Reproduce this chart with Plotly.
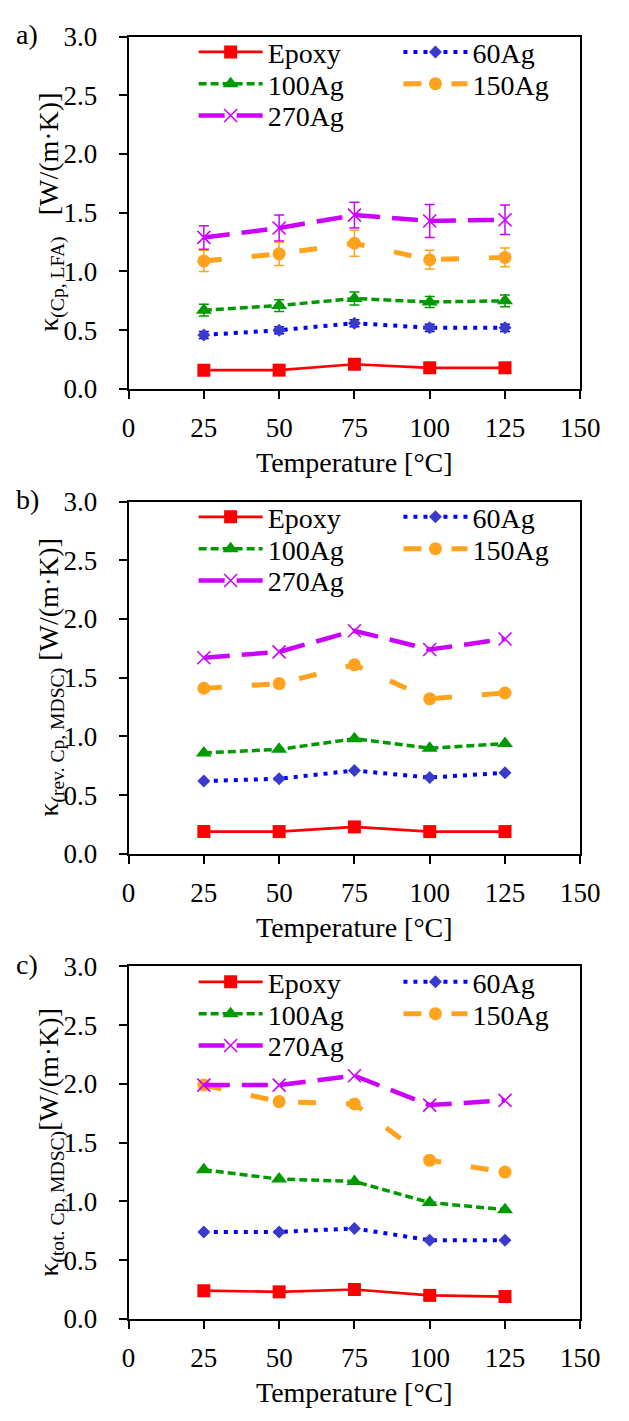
import plotly.graph_objects as go

# ---- data -------------------------------------------------------------
temperature = [25, 50, 75, 100, 125]
series_names = ["Epoxy", "60Ag", "100Ag", "150Ag", "270Ag"]

# (a) kappa from LFA with Cp
lfa_epoxy = [0.16, 0.16, 0.21, 0.18, 0.18]
lfa_60ag = [0.46, 0.50, 0.56, 0.52, 0.52]
lfa_100ag = [0.67, 0.71, 0.77, 0.74, 0.75]
lfa_150ag = [1.09, 1.15, 1.24, 1.10, 1.12]
lfa_270ag = [1.29, 1.37, 1.48, 1.43, 1.44]

lfa_err_epoxy = [0.01, 0.01, 0.01, 0.01, 0.01]
lfa_err_60ag = [0.03, 0.03, 0.03, 0.03, 0.03]
lfa_err_100ag = [0.05, 0.05, 0.055, 0.046, 0.05]
lfa_err_150ag = [0.09, 0.10, 0.11, 0.08, 0.08]
lfa_err_270ag = [0.10, 0.11, 0.11, 0.14, 0.125]

# (b) kappa from reversing Cp (MDSC)
rev_epoxy = [0.19, 0.19, 0.23, 0.19, 0.19]
rev_60ag = [0.62, 0.64, 0.71, 0.65, 0.69]
rev_100ag = [0.86, 0.89, 0.98, 0.90, 0.94]
rev_150ag = [1.41, 1.45, 1.61, 1.32, 1.37]
rev_270ag = [1.67, 1.72, 1.90, 1.74, 1.83]

# (c) kappa from total Cp (MDSC)
tot_epoxy = [0.24, 0.23, 0.25, 0.20, 0.19]
tot_60ag = [0.74, 0.74, 0.77, 0.67, 0.67]
tot_100ag = [1.27, 1.19, 1.17, 0.99, 0.93]
tot_150ag = [1.99, 1.85, 1.83, 1.35, 1.25]
tot_270ag = [1.99, 1.99, 2.07, 1.82, 1.86]

panel_labels = ["a)", "b)", "c)"]
y_titles = [
    "κ<sub>(Cp, LFA)</sub>\u00a0\u00a0\u00a0[W/(m·K)]",
    "κ<sub>(rev. Cp, MDSC)</sub> [W/(m·K)]",
    "κ<sub>(tot. Cp, MDSC)</sub>[W/(m·K)]",
]
x_title = "Temperature [°C]"
x_ticks = [0, 25, 50, 75, 100, 125, 150]
y_ticks = [0.0, 0.5, 1.0, 1.5, 2.0, 2.5, 3.0]

panels = [
    [lfa_epoxy, lfa_60ag, lfa_100ag, lfa_150ag, lfa_270ag],
    [rev_epoxy, rev_60ag, rev_100ag, rev_150ag, rev_270ag],
    [tot_epoxy, tot_60ag, tot_100ag, tot_150ag, tot_270ag],
]
panel_errors = [
    [lfa_err_epoxy, lfa_err_60ag, lfa_err_100ag, lfa_err_150ag, lfa_err_270ag],
    None,
    None,
]

# ---- styling ------------------------------------------------------------
FONT = "Liberation Serif, Times New Roman, serif"
W, H = 629, 1421

styles = [
    dict(color="#ff0000", mcolor="#ff0000", dash="solid", width=2.7,
         symbol="square", size=13, mline=0),
    dict(color="#0000ff", mcolor="#3a3acc", dash="4px,6px", width=4,
         symbol="diamond", size=10, mline=0),
    dict(color="#009900", mcolor="#009900", dash="8px,4px", width=3.5,
         symbol="triangle-up", size=14, mline=0),
    dict(color="#ffa31f", mcolor="#ffa31f", dash="18px,30px", width=5,
         symbol="circle", size=13, mline=0),
    dict(color="#cc00ff", mcolor="#cc00ff", dash="26px,12px", width=4.5,
         symbol="x-thin", size=13, mline=1.6),
]

# pixel geometry of the three plot areas (left, right, top, bottom)
x_left, x_right = 127, 599
tops = [22, 497, 972]
bottoms = [382, 857, 1332]
legend_row_offsets = [16, 48.5, 81]
legend_col_x = [195, 409]


def px_x(p):
    return p / W


def px_y(p):
    return 1 - p / H


def legend_key(n):
    return "legend" if n == 1 else f"legend{n}"


fig = go.Figure()

for pi, values in enumerate(panels):
    suffix = "" if pi == 0 else str(pi + 1)
    for si, yv in enumerate(values):
        st = styles[si]
        err = None
        if panel_errors[pi] is not None:
            err = dict(type="data", array=panel_errors[pi][si], visible=True,
                       color=st["color"], thickness=1.5, width=5)
        marker = dict(symbol=st["symbol"], size=st["size"], color=st["mcolor"])
        if st["mline"]:
            marker["line"] = dict(color=st["mcolor"], width=st["mline"])
        else:
            marker["line"] = dict(width=0)
        fig.add_trace(go.Scatter(
            x=temperature, y=yv, name=series_names[si],
            mode="lines+markers",
            line=dict(color=st["color"], width=st["width"], dash=st["dash"]),
            marker=marker,
            error_y=err,
            xaxis="x" + suffix, yaxis="y" + suffix,
            legend=legend_key(pi * 5 + si + 1),
            showlegend=True,
        ))

layout = dict(
    width=W, height=H, autosize=False, showlegend=True,
    margin=dict(l=0, r=0, t=0, b=0),
    paper_bgcolor="white", plot_bgcolor="white",
    font=dict(family=FONT, size=27, color="black"),
    annotations=[],
)

for pi in range(3):
    suffix = "" if pi == 0 else str(pi + 1)
    ov = str(pi + 4)
    ydom = [px_y(bottoms[pi]), px_y(tops[pi])]
    xdom = [px_x(x_left), px_x(x_right)]
    common_x = dict(range=[0, 150], tickvals=x_ticks, showgrid=False,
                    zeroline=False, domain=xdom, fixedrange=True)
    common_y = dict(range=[0, 3], tickvals=y_ticks, showgrid=False,
                    zeroline=False, domain=ydom, fixedrange=True)
    layout["xaxis" + suffix] = dict(
        **common_x, anchor="y" + suffix, showline=True, linecolor="black",
        linewidth=1.8, mirror=True, ticks="outside", ticklen=8, tickwidth=1.8,
        tickcolor="black", ticktext=[str(v) for v in x_ticks],
        tickfont=dict(family=FONT, size=27), ticklabelstandoff=6,
    )
    layout["yaxis" + suffix] = dict(
        **common_y, anchor="x" + suffix, showline=True, linecolor="black",
        linewidth=1.8, mirror=True, ticks="outside", ticklen=8, tickwidth=1.8,
        tickcolor="black", tickformat=".1f",
        tickfont=dict(family=FONT, size=27), ticklabelstandoff=16,
    )
    # inner halves of the crossing tick marks
    layout["xaxis" + ov] = dict(
        **common_x, anchor="y" + suffix, overlaying="x" + suffix, side="bottom",
        ticks="inside", ticklen=8, tickwidth=1.8, tickcolor="black",
        showticklabels=False, showline=False,
    )
    layout["yaxis" + ov] = dict(
        **common_y, anchor="x" + suffix, overlaying="y" + suffix, side="left",
        ticks="inside", ticklen=8, tickwidth=1.8, tickcolor="black",
        showticklabels=False, showline=False,
    )

    # one legend box per entry, laid out in two columns
    for si in range(len(series_names)):
        row, col = divmod(si, 2)
        layout[legend_key(pi * 5 + si + 1)] = dict(
            x=px_x(legend_col_x[col]), xanchor="left",
            y=px_y(tops[pi] + legend_row_offsets[row]), yanchor="middle",
            orientation="v", itemwidth=64, bgcolor="rgba(0,0,0,0)",
            borderwidth=0, font=dict(family=FONT, size=28, color="black"),
            itemclick=False, itemdoubleclick=False, visible=True,
        )

    mid = (tops[pi] + bottoms[pi]) / 2
    layout["annotations"] += [
        dict(text=y_titles[pi], textangle=-90, xref="paper", yref="paper",
             x=px_x(46), y=px_y(mid), xanchor="center", yanchor="middle",
             showarrow=False, font=dict(family=FONT, size=28)),
        dict(text=x_title, xref="paper", yref="paper",
             x=px_x((x_left + x_right) / 2), y=px_y(bottoms[pi] + 75),
             xanchor="center", yanchor="middle", showarrow=False,
             font=dict(family=FONT, size=28)),
        dict(text=panel_labels[pi], xref="paper", yref="paper",
             x=px_x(7), y=px_y(tops[pi] - 2), xanchor="left", yanchor="middle",
             showarrow=False, font=dict(family=FONT, size=28)),
    ]

fig.update_layout(**layout)
fig.write_html("out.html")
